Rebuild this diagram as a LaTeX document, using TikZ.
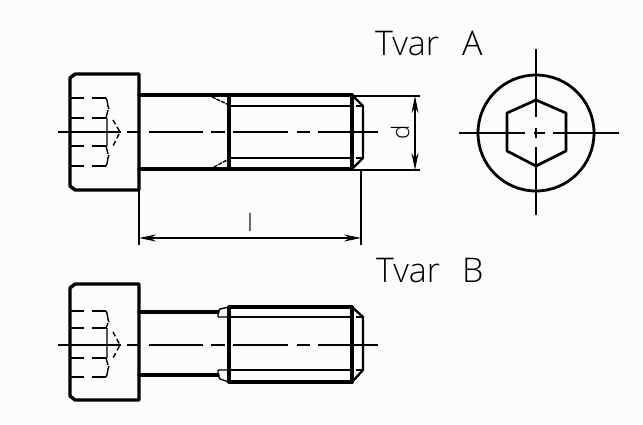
\documentclass[tikz,border=0pt]{standalone}
\usepackage{fontspec}
\setmainfont{Open Sans Light}
\usetikzlibrary{arrows.meta}
\definecolor{ink}{RGB}{0,0,0}
\tikzset{
 thick line/.style={draw=ink,line width=3.4pt,line cap=round,line join=round},
 mid line/.style={draw=ink,line width=2.3pt,line join=round},
 thin line/.style={draw=ink,line width=1.4pt},
 dim/.style={thin line,{Stealth[length=17pt,width=7pt]}-{Stealth[length=17pt,width=7pt]}},
 lab/.style={inner sep=0pt,anchor=base west,text=ink,font=\fontsize{34}{34}\selectfont},
}
\newcommand{\sockethead}[6]{%
 \draw[thick line] (75,#1) -- (139,#1) (139,#1) -- (139,#2) (75,#1) -- (70,#1+4) -- (70,#2-4) -- (75,#2) -- (139,#2);
 \foreach \yy in {#3,#4,#5,#6}{\draw[thin line] (70,\yy) -- (84,\yy) (92,\yy) -- (106,\yy);}
 \draw[thin line] (106,#3) .. controls (108,#3+3) and (107,#3+7) .. (109,#3+11);
 \draw[thin line] (106,#6) .. controls (108,#6-3) and (107,#6-7) .. (109,#6-11);
 \draw[thin line] (106,#4) -- (108,#3+12) (106,#5) -- (108,#6-12) (107,#4) -- (107,#5);
}
\newcommand{\threadpart}[4]{%
 \draw[thick line] (229,#1) -- (229,#4) (352,#1) -- (352,#4);
 \draw[thin line] (229,#2) -- (352,#2) (229,#3) -- (352,#3);
 \draw[mid line] (352,#1) -- (363,#2) -- (363,#3) -- (352,#4);
 \draw[thin line] (356,#2) -- (363,#2) (356,#3) -- (363,#3);
}
\begin{document}
\begin{tikzpicture}[x=1pt,y=-1pt]
\useasboundingbox (0,0) rectangle (643,424);
\fill[fill={rgb,255:red,252;green,251;blue,253}] (0,0) rectangle (643,424);
% top bolt
\sockethead{74}{190}{98}{118}{146}{166}
\draw[thick line] (139,95) -- (352,95) (139,169) -- (352,169);
\threadpart{95}{106}{158}{169}
\draw[thin line,dash pattern=on 4pt off 1pt] (212,97) -- (229,105) (214,167) -- (229,159);
\draw[thin line,dash pattern=on 5pt off 3pt] (113,120) -- (120,132) -- (113,146);
\draw[thin line] (58,132) -- (121,132) (127,132) -- (138,132) (149,132) -- (203,132) (211,132) -- (225,132) (233,132) -- (288,132) (297,132) -- (310,132) (318,132) -- (378,132);
% dimensions
\coordinate (da) at (415,96); \coordinate (db) at (415,170);
\draw[thin line] (353,96) -- (420,96) (353,170) -- (420,170);
\draw[dim] (da) -- (db);
\coordinate (la) at (139,238); \coordinate (lb) at (361,238);
\draw[thin line] (361,170) -- (361,245) (139,170) -- (139,245);
\draw[dim] (la) -- (lb);
\node[inner sep=0pt,text=ink,font=\fontsize{24}{24}\selectfont,rotate=90] (dlabel) at (400,132) {d};
\node[inner sep=0pt,text=ink,font=\fontsize{24}{24}\selectfont] (llabel) at (250,222) {l};
\node[lab] (tvara) at (375,55) {Tvar\hspace{23pt}A};
\node[lab] (tvarb) at (376,282) {Tvar\hspace{22pt}B};
% end view
\draw[draw=ink,line width=2.8pt] (536,133) circle[radius=58];
\draw[draw=ink,line width=2.7pt,line join=round] (536,100) -- (566,113) -- (566,151) -- (536,166) -- (507,151) -- (507,113) -- cycle;
\draw[thin line] (459,133) -- (525,133) (534,133) -- (545,133) (553,133) -- (619,133) (536,49) -- (536,117) (536,128) -- (536,138) (536,147) -- (536,215);
% bottom bolt
\sockethead{284}{400}{311}{328}{358}{377}
\draw[thick line] (139,312) -- (218,312) (139,375) -- (218,375) (229,307) -- (352,307) (229,382) -- (352,382);
\threadpart{307}{317}{370}{382}
\draw[thin line] (218,312) -- (220,309) -- (229,307) (218,317) -- (229,317) (218,312) -- (218,317) (218,375) -- (220,379) -- (229,382) (218,370) -- (229,370) (218,375) -- (218,370);
\draw[thin line,dash pattern=on 5pt off 3pt] (113,332) -- (120,345) -- (113,358);
\draw[thin line] (58,345) -- (121,345) (127,345) -- (138,345) (149,345) -- (203,345) (211,345) -- (225,345) (233,345) -- (288,345) (297,345) -- (310,345) (318,345) -- (378,345);
\end{tikzpicture}
\end{document}
